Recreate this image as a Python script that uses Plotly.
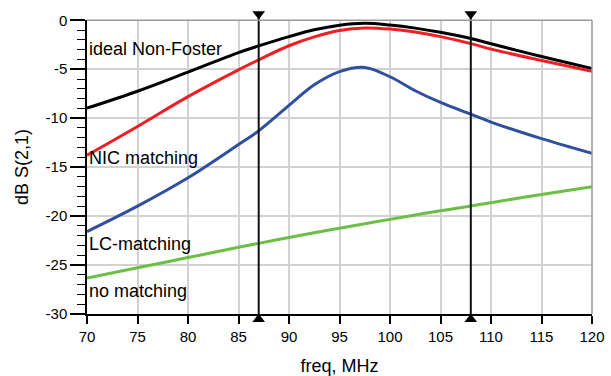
import plotly.graph_objects as go

freq = [70, 75, 80, 85, 87, 90, 92.5, 95, 97.5, 100, 102.5, 105, 108, 110, 115, 120]
ideal_non_foster = [-8.98, -7.25, -5.3, -3.3, -2.62, -1.67, -0.97, -0.5, -0.3, -0.48, -0.8, -1.23, -1.86, -2.4, -3.7, -4.94]
nic_matching = [-13.8, -10.85, -7.8, -5.06, -4.04, -2.6, -1.7, -1.05, -0.78, -0.89, -1.2, -1.67, -2.38, -2.95, -4.1, -5.2]
lc_matching = [-21.6, -19.0, -16.1, -12.7, -11.3, -8.7, -6.6, -5.25, -4.82, -5.77, -7.2, -8.4, -9.6, -10.4, -12.1, -13.6]
no_matching = [-26.35, -25.3, -24.25, -23.2, -22.8, -22.2, -21.72, -21.25, -20.8, -20.35, -19.9, -19.47, -18.98, -18.64, -17.8, -17.0]

series_names = ["ideal Non-Foster", "NIC matching", "LC-matching", "no matching"]
series_colors = ["#000000", "#ee2026", "#2f4f9f", "#6cbf45"]
label_y = [-2.93, -14.1, -22.9, -27.65]

marker_freq = [87, 108]
marker_top = 0.64
marker_bottom = -30.55

x_ticks = [70, 75, 80, 85, 90, 95, 100, 105, 110, 115, 120]
y_ticks = [0, -5, -10, -15, -20, -25, -30]

FONT = "Liberation Sans, Arial, sans-serif"

# layout geometry (pixels)
W, H = 611, 376
ML, MR, MT, MB = 87, 19, 6, 46
PLOT_TOP, PLOT_BOT = 20.3, 313.8
area_top, area_bot = MT, H - MB
area_h = area_bot - area_top
dom = [(area_bot - PLOT_BOT) / area_h, (area_bot - PLOT_TOP) / area_h]
db_per_px = 30.0 / (PLOT_BOT - PLOT_TOP)
y2_range = [-30 - (area_bot - PLOT_BOT) * db_per_px, 0 + (PLOT_TOP - area_top) * db_per_px]

fig = go.Figure()

for name, ys, col in zip(series_names, [ideal_non_foster, nic_matching, lc_matching, no_matching], series_colors):
    fig.add_trace(go.Scatter(x=freq, y=ys, mode="lines", name=name,
                             line=dict(color=col, width=3, shape="spline", smoothing=1.0),
                             showlegend=False, hoverinfo="skip"))

for mf in marker_freq:
    fig.add_trace(go.Scatter(x=[mf, mf], y=[marker_top, marker_bottom], mode="lines",
                             line=dict(color="#111111", width=2),
                             xaxis="x2", yaxis="y2", showlegend=False, hoverinfo="skip"))
fig.add_trace(go.Scatter(x=marker_freq, y=[marker_top] * len(marker_freq), mode="markers",
                         marker=dict(symbol="triangle-down", size=11, color="#000000"),
                         xaxis="x2", yaxis="y2", showlegend=False, hoverinfo="skip"))
fig.add_trace(go.Scatter(x=marker_freq, y=[marker_bottom] * len(marker_freq), mode="markers",
                         marker=dict(symbol="triangle-up", size=11, color="#000000"),
                         xaxis="x2", yaxis="y2", showlegend=False, hoverinfo="skip"))

for name, ly in zip(series_names, label_y):
    fig.add_annotation(x=70, y=ly, xref="x", yref="y", text=name, showarrow=False,
                       xanchor="left", yanchor="middle", xshift=0,
                       font=dict(family=FONT, size=18, color="#000000"))

# top and right frame
fig.add_shape(type="line", xref="x domain", yref="y domain", x0=0, x1=1, y0=1, y1=1,
              line=dict(color="#9a9a9a", width=1.5))
fig.add_shape(type="line", xref="x domain", yref="y domain", x0=1, x1=1, y0=0, y1=1,
              line=dict(color="#9a9a9a", width=1.5))

fig.update_layout(
    width=W, height=H,
    margin=dict(l=ML, r=MR, t=MT, b=MB, autoexpand=False),
    paper_bgcolor="white", plot_bgcolor="rgba(0,0,0,0)",
    font=dict(family=FONT, size=15, color="#000000"),
    xaxis=dict(
        domain=[0, 1], anchor="y",
        range=[70, 120], tickvals=x_ticks, ticktext=[str(v) for v in x_ticks],
        showgrid=True, gridcolor="#d2d2d2", gridwidth=1.5,
        showline=True, linecolor="#000000", linewidth=1.5,
        ticks="outside", ticklen=8, tickwidth=1.5, tickcolor="#000000",
        tickfont=dict(family=FONT, size=15, color="#000000"),
        title=dict(text="freq, MHz", font=dict(family=FONT, size=18, color="#000000"), standoff=18),
        zeroline=False, automargin=False,
    ),
    yaxis=dict(
        domain=dom, anchor="x",
        range=[-30, 0], tickvals=y_ticks, ticktext=[str(v) for v in y_ticks],
        showgrid=True, gridcolor="#d2d2d2", gridwidth=1.5,
        showline=True, linecolor="#000000", linewidth=1.5,
        ticks="outside", ticklen=15, tickwidth=1.5, tickcolor="#000000",
        minor=dict(dtick=1, ticks="outside", ticklen=8, tickwidth=1.2, tickcolor="#000000", showgrid=False),
        tickfont=dict(family=FONT, size=15, color="#000000"),
        title=dict(text="dB S(2,1)", font=dict(family=FONT, size=18, color="#000000"), standoff=12),
        zeroline=False, automargin=False,
    ),
    xaxis2=dict(domain=[0, 1], anchor="y2", range=[70, 120], visible=False,
                showgrid=False, zeroline=False, fixedrange=True),
    yaxis2=dict(domain=[0, 1], anchor="x2", range=y2_range, visible=False,
                showgrid=False, zeroline=False, fixedrange=True),
)

fig.write_html("out.html", config={"displayModeBar": False},
               post_script="document.body.style.margin='0';")
